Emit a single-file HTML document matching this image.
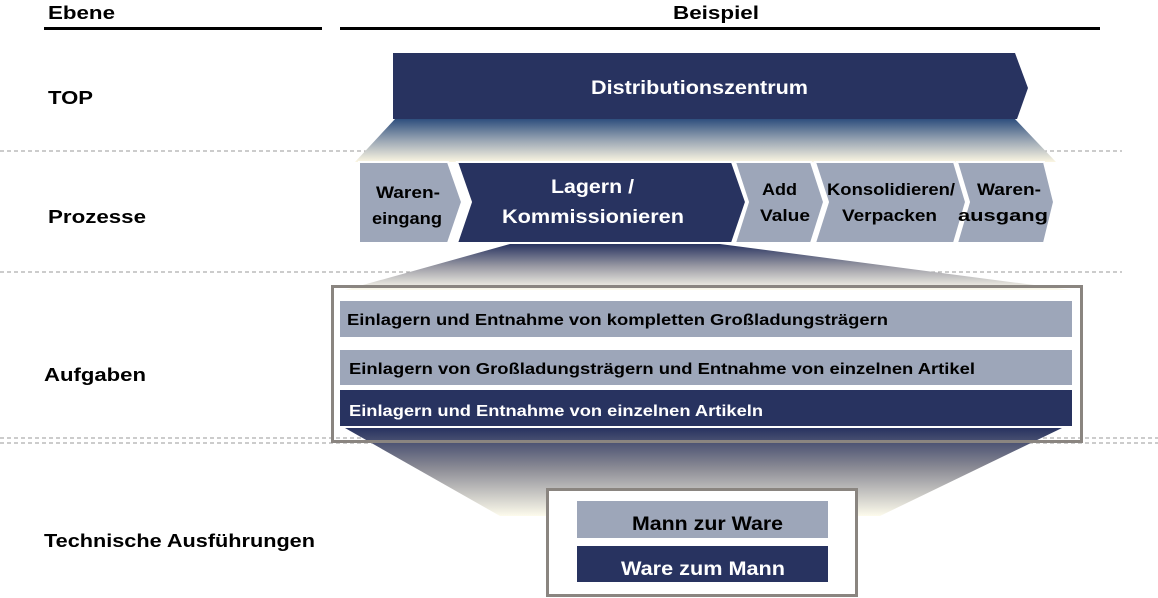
<!DOCTYPE html>
<html><head><meta charset="utf-8"><style>
html,body{margin:0;padding:0;background:#fff;}
svg{display:block;}
text{font-family:"Liberation Sans",Arial,sans-serif;font-weight:bold;}
</style></head><body>
<svg width="1158" height="598" viewBox="0 0 1158 598" xmlns="http://www.w3.org/2000/svg">
<defs>
<linearGradient id="g1" x1="0" y1="0" x2="0" y2="1">
<stop offset="0" stop-color="#2e4f7e"/><stop offset="0.5" stop-color="#9aa6b4"/><stop offset="1" stop-color="#fbf6e2"/>
</linearGradient>
<linearGradient id="g2" x1="0" y1="0" x2="0" y2="1">
<stop offset="0" stop-color="#283360"/><stop offset="0.5" stop-color="#9c9ca6"/><stop offset="1" stop-color="#fdfbee"/>
</linearGradient>
<linearGradient id="g3" x1="0" y1="0" x2="0" y2="1">
<stop offset="0" stop-color="#283360"/><stop offset="0.45" stop-color="#8a8a94"/><stop offset="1" stop-color="#fdfbec"/>
</linearGradient>
</defs>

<text x="48" y="19" font-size="18" textLength="67" lengthAdjust="spacingAndGlyphs">Ebene</text>
<text x="673" y="19" font-size="18" textLength="86" lengthAdjust="spacingAndGlyphs">Beispiel</text>
<rect x="44" y="27" width="278" height="3" fill="#000"/>
<rect x="340" y="27" width="760" height="3" fill="#000"/>

<line x1="0" y1="151" x2="1122" y2="151" stroke="#999" stroke-dasharray="4,3"/>
<line x1="0" y1="272" x2="1122" y2="272" stroke="#999" stroke-dasharray="4,3"/>
<line x1="0" y1="438" x2="1158" y2="438" stroke="#999" stroke-dasharray="4,3"/>
<line x1="0" y1="443" x2="1158" y2="443" stroke="#999" stroke-dasharray="4,3"/>

<text x="48" y="104" font-size="18" textLength="45" lengthAdjust="spacingAndGlyphs">TOP</text>
<text x="48" y="223" font-size="18" textLength="98" lengthAdjust="spacingAndGlyphs">Prozesse</text>
<text x="44" y="381" font-size="18" textLength="102" lengthAdjust="spacingAndGlyphs">Aufgaben</text>
<text x="44" y="547" font-size="18" textLength="271" lengthAdjust="spacingAndGlyphs">Technische Ausführungen</text>

<polygon points="395,119 1015,119 1056,162 355,162" fill="url(#g1)"/>
<polygon points="393,53 1015,53 1028,88 1017,119 393,119" fill="#283360"/>
<text x="591" y="94" font-size="19" fill="#fff" textLength="217" lengthAdjust="spacingAndGlyphs">Distributionszentrum</text>

<polygon points="510,244 720,244 1072,290 345,290" fill="url(#g2)"/>

<g stroke="#fff" stroke-width="2">
<polygon points="359,162 448,162 462,202 448,243 359,243" fill="#9da6b9"/>
<polygon points="457,162 732,162 746,202 732,243 457,243 471,202" fill="#283360"/>
<polygon points="735,162 811,162 824,202 811,243 735,243 748,202" fill="#9da6b9"/>
<polygon points="815,162 954,162 966,202 954,243 815,243 828,202" fill="#9da6b9"/>
<polygon points="957,162 1044,162 1054,202 1044,243 957,243 969,202" fill="#9da6b9"/>
</g>
<g font-size="16.5" fill="#000">
<text x="376" y="198" textLength="64" lengthAdjust="spacingAndGlyphs">Waren-</text>
<text x="372" y="224" textLength="70" lengthAdjust="spacingAndGlyphs">eingang</text>
<text x="762" y="195" textLength="35" lengthAdjust="spacingAndGlyphs">Add</text>
<text x="760" y="221" textLength="50" lengthAdjust="spacingAndGlyphs">Value</text>
<text x="827" y="195" textLength="128" lengthAdjust="spacingAndGlyphs">Konsolidieren/</text>
<text x="842" y="221" textLength="95" lengthAdjust="spacingAndGlyphs">Verpacken</text>
<text x="977" y="195" textLength="64" lengthAdjust="spacingAndGlyphs">Waren-</text>
<text x="958" y="221" textLength="90" lengthAdjust="spacingAndGlyphs">ausgang</text>
</g>
<text x="551" y="193" font-size="19" fill="#fff" textLength="83" lengthAdjust="spacingAndGlyphs">Lagern /</text>
<text x="502" y="223" font-size="19" fill="#fff" textLength="182" lengthAdjust="spacingAndGlyphs">Kommissionieren</text>

<polygon points="345,428 1062,428 880,516 500,516" fill="url(#g3)"/>

<rect x="332.5" y="286.5" width="749" height="155" fill="none" stroke="#8a8580" stroke-width="3"/>
<rect x="340" y="301" width="732" height="36" fill="#9da6b9"/>
<rect x="340" y="350" width="732" height="35" fill="#9da6b9"/>
<rect x="340" y="390" width="732" height="36" fill="#283360"/>
<text x="347" y="325" font-size="16" fill="#000" textLength="541" lengthAdjust="spacingAndGlyphs">Einlagern und Entnahme von kompletten Großladungsträgern</text>
<text x="349" y="374" font-size="16" fill="#000" textLength="626" lengthAdjust="spacingAndGlyphs">Einlagern von Großladungsträgern und Entnahme von einzelnen Artikel</text>
<text x="349" y="416" font-size="16" fill="#fff" textLength="414" lengthAdjust="spacingAndGlyphs">Einlagern und Entnahme von einzelnen Artikeln</text>

<rect x="547.5" y="489.5" width="309" height="106" fill="#fff" stroke="#8a8580" stroke-width="3"/>
<rect x="577" y="501" width="251" height="37" fill="#9da6b9"/>
<rect x="577" y="546" width="251" height="36" fill="#283360"/>
<text x="632" y="530" font-size="19" fill="#000" textLength="151" lengthAdjust="spacingAndGlyphs">Mann zur Ware</text>
<text x="621" y="575" font-size="19" fill="#fff" textLength="164" lengthAdjust="spacingAndGlyphs">Ware zum Mann</text>
</svg>
</body></html>
